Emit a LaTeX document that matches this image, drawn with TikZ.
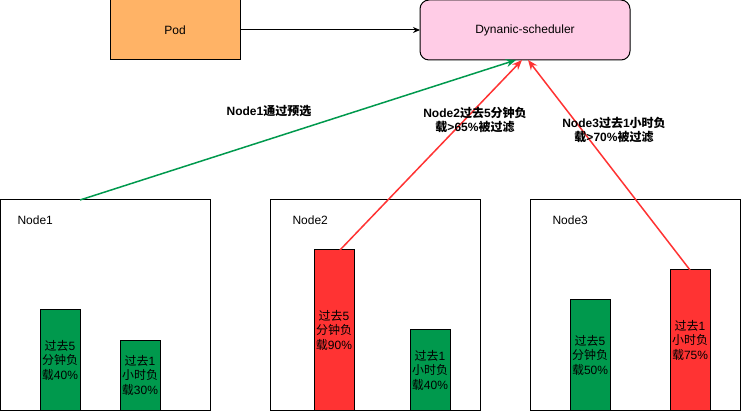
\documentclass[tikz,border=0pt]{standalone}
\usepackage{fontspec}
\setmainfont{Liberation Sans}
\newfontfamily\cjk{Noto Sans CJK SC}
\newcommand{\zh}[1]{{\cjk #1}}
\usetikzlibrary{arrows.meta, positioning}
\definecolor{podorange}{HTML}{FFB366}
\definecolor{schedpink}{HTML}{FFCCE6}
\definecolor{loadgreen}{HTML}{00994D}
\definecolor{loadred}{HTML}{FF3333}
\tikzset{%
    topbox/.style = {draw, rectangle, minimum height=60pt, outer sep=0pt,
        font=\fontsize{12}{14}\selectfont},
    hostbox/.style = {draw, rectangle, minimum width=210pt, minimum height=210pt,
        outer sep=0pt, anchor=north west},
    hostlabel/.style = {inner sep=0pt, anchor=base west, font=\fontsize{12}{14}\selectfont},
    bar/.style = {draw, rectangle, minimum width=40pt, inner sep=0pt, outer sep=0pt,
        anchor=south, align=center, font=\fontsize{12}{14.5}\selectfont},
    okbar/.style = {bar, fill=loadgreen},
    hotbar/.style = {bar, fill=loadred},
    note/.style = {align=center, inner sep=0pt, font=\bfseries\fontsize{12}{14}\selectfont},
    pass/.style = {draw=loadgreen, line width=1.5pt, -{Stealth[length=10pt, width=8pt]}},
    drop/.style = {draw=loadred, line width=1.5pt, -{Stealth[length=10pt, width=8pt]}}
}

\begin{document}
\begin{tikzpicture}[x=1pt, y=-1pt, line width=1pt]
    \useasboundingbox (0,0) rectangle (741,411);
    % top row
    \node [topbox, fill=podorange, minimum width=130pt] (pod) at (175,30) {Pod};
    \node [topbox, fill=schedpink, minimum width=210pt, rounded corners=9pt] (sched) at (525,30) {Dynanic-scheduler};
    \draw[-{Stealth[length=7pt, width=6pt]}] (pod) -- (sched);
    % hosts
    \node [hostbox] (host1) at (0,200) {};
    \node [hostbox, right=60pt of host1] (host2) {};
    \node [hostbox, right=50pt of host2] (host3) {};
    \node [hostlabel] (name1) at (17,225) {Node1};
    \node [hostlabel] (name2) at (292,225) {Node2};
    \node [hostlabel] (name3) at (552,225) {Node3};
    % load bars
    \node [okbar, minimum height=100pt] (bar11) at (60,410) {\zh{过去}5\\\zh{分钟负}\\\zh{载}40\%};
    \node [okbar, minimum height=70pt] (bar12) at (140,410) {\zh{过去}1\\\zh{小时负}\\\zh{载}30\%};
    \node [hotbar, minimum height=160pt] (bar21) at (334,410) {\zh{过去}5\\\zh{分钟负}\\\zh{载}90\%};
    \node [okbar, minimum height=80pt] (bar22) at (430,410) {\zh{过去}1\\\zh{小时负}\\\zh{载}40\%};
    \node [okbar, minimum height=110pt] (bar31) at (590,410) {\zh{过去}5\\\zh{分钟负}\\\zh{载}50\%};
    \node [hotbar, minimum height=140pt] (bar32) at (690,410) {\zh{过去}1\\\zh{小时负}\\\zh{载}75\%};
    % filter results
    \draw[pass] ([xshift=-25pt]host1.north) -- ([xshift=-9pt]sched.south);
    \draw[drop] ([xshift=6pt]bar21.north) -- ([xshift=-3pt]sched.south);
    \draw[drop] (bar32.north) -- ([xshift=3pt]sched.south);
    \node [note] (pass1) at (269,111) {Node1\zh{通过预选}};
    \node [note] (drop2) at (475,120) {Node2\zh{过去}5\zh{分钟负}\\\zh{载}>65\%\zh{被过滤}};
    \node [note] (drop3) at (614,130) {Node3\zh{过去}1\zh{小时负}\\\zh{载}>70\%\zh{被过滤}};
\end{tikzpicture}
\end{document}
